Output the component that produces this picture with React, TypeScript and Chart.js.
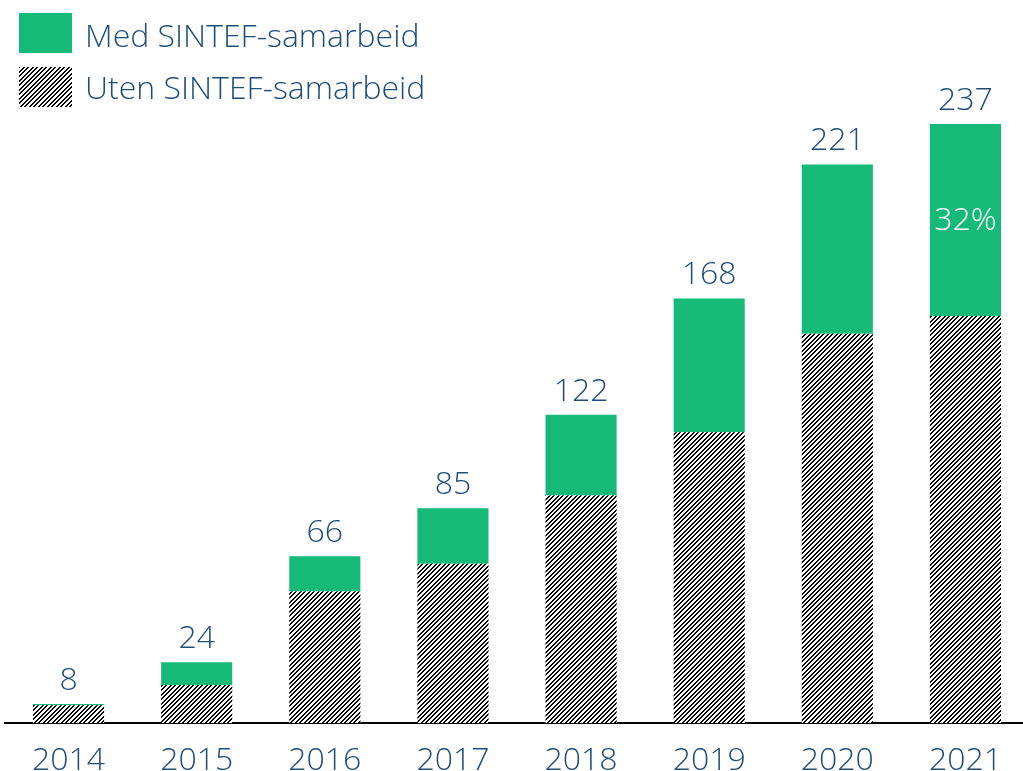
import React, { useEffect, useRef } from "react";
import { Chart, registerables } from "chart.js";

Chart.register(...registerables);

const categories: string[] = ["2014", "2015", "2016", "2017", "2018", "2019", "2020", "2021"];
const withoutSintef: number[] = [7, 15, 52, 63, 90, 115, 154, 161];
const withSintef: number[] = [0.5, 9, 14, 22, 32, 53, 67, 76];
const totalLabels: string[] = ["8", "24", "66", "85", "122", "168", "221", "237"];
const insideLabels: string[] = ["", "", "", "", "", "", "", "32%"];
const seriesNames: string[] = ["Uten SINTEF-samarbeid", "Med SINTEF-samarbeid"];

const GREEN = "#15B978";
const BLUE = "#1F4E79";
const FONT = "'Open Sans', Lato, sans-serif";
const FSIZE = 32;
const FWEIGHT = 300;

function makeHatch(): CanvasPattern | string {
  const n = 9;
  const c = document.createElement("canvas");
  c.width = n;
  c.height = n;
  const g = c.getContext("2d");
  if (!g) return "#000";
  g.fillStyle = "#fff";
  g.fillRect(0, 0, n, n);
  g.fillStyle = "#000";
  for (let y = 0; y < n; y++) {
    for (let x = 0; x < n; x++) {
      const m = (x + y) % n;
      if (m === 0 || m === 1 || m === 4 || m === 5) g.fillRect(x, y, 1, 1);
    }
  }
  const p = g.createPattern(c, "repeat");
  return p || "#000";
}

export default function App() {
  const ref = useRef<HTMLCanvasElement | null>(null);

  useEffect(() => {
    if (!ref.current) return;
    const hatch = makeHatch();

    const labelPlugin = {
      id: "customLabels",
      afterDatasetsDraw(chart: any) {
        const ctx = chart.ctx;
        const topMeta = chart.getDatasetMeta(1);
        ctx.save();
        ctx.textAlign = "center";
        ctx.font = `${FWEIGHT} ${FSIZE}px ${FONT}`;
        topMeta.data.forEach((el: any, i: number) => {
          ctx.fillStyle = BLUE;
          ctx.textBaseline = "alphabetic";
          ctx.fillText(totalLabels[i], el.x, el.y - 14);
          if (insideLabels[i]) {
            ctx.fillStyle = "#ffffff";
            ctx.textBaseline = "middle";
            ctx.fillText(insideLabels[i], el.x, (el.y + el.base) / 2 + 1);
          }
        });
        // legend
        const items = [
          { color: GREEN as any, text: seriesNames[1], y: 13, base: 47 },
          { color: hatch as any, text: seriesNames[0], y: 67, base: 99 },
        ];
        items.forEach((it) => {
          ctx.fillStyle = it.color;
          ctx.fillRect(19, it.y, 53, 40);
          ctx.fillStyle = BLUE;
          ctx.textAlign = "left";
          ctx.textBaseline = "alphabetic";
          ctx.fillText(it.text, 85, it.base);
        });
        ctx.restore();
      },
    };

    const chart = new Chart(ref.current, {
      type: "bar",
      data: {
        labels: categories,
        datasets: [
          {
            label: seriesNames[0],
            data: withoutSintef,
            backgroundColor: hatch as any,
            borderWidth: 0,
            categoryPercentage: 1,
            barPercentage: 0.555,
          },
          {
            label: seriesNames[1],
            data: withSintef,
            backgroundColor: GREEN,
            borderWidth: 0,
            categoryPercentage: 1,
            barPercentage: 0.555,
          },
        ],
      },
      options: {
        responsive: false,
        animation: false,
        events: [],
        layout: { padding: { left: 4.5, right: 10.5, top: 15.3, bottom: 10 } },
        plugins: {
          legend: { display: false },
          tooltip: { enabled: false },
        },
        scales: {
          x: {
            stacked: true,
            grid: { display: false },
            border: { display: true, color: "#000", width: 2 },
            afterFit: (scale: any) => {
              scale.height = 48;
            },
            ticks: {
              color: BLUE,
              font: { family: FONT, size: FSIZE, weight: FWEIGHT as any, lineHeight: 1.2 },
              padding: 11,
              maxRotation: 0,
              autoSkip: false,
            },
          },
          y: {
            stacked: true,
            display: false,
            min: 0,
            max: 280,
          },
        },
      },
      plugins: [labelPlugin],
    });
    return () => chart.destroy();
  }, []);

  return (
    <div
      style={{
        position: "fixed",
        left: 0,
        top: 0,
        width: 1023,
        height: 771,
        overflow: "hidden",
        background: "#fff",
      }}
    >
      <canvas ref={ref} width={1040} height={781} style={{ display: "block" }} />
    </div>
  );
}
